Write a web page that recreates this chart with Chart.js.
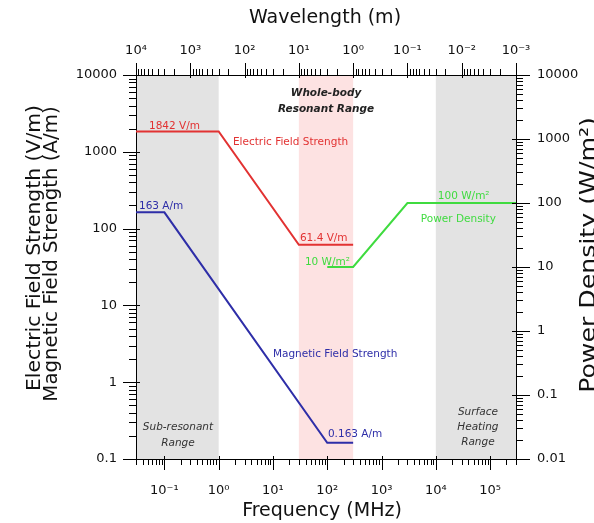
<!DOCTYPE html>
<html>
<head>
<meta charset="utf-8">
<script src="https://cdn.jsdelivr.net/npm/chart.js@4.4.1/dist/chart.umd.min.js"></script>
<style>
  html, body { margin: 0; padding: 0; background: #fff; }
</style>
</head>
<body>
<canvas id="chart" width="594" height="523"></canvas>
<script>
const FONT = '"DejaVu Sans", sans-serif';
const RED = '#e23232';
const BLUE = '#2e2ea8';
const GREEN = '#3fdb3f';

// axis ranges
const freqRange = [0.03, 300000];        // MHz
const wavelengthRange = [0.001, 10000];  // m
const fieldRange = [0.1, 10000];         // V/m, A/m
const powerRange = [0.01, 10000];        // W/m2

// reference level curves
const electricFreq = [0.03, 1, 30, 300];
const electricValues = [1842, 1842, 61.4, 61.4];
const magneticFreq = [0.03, 0.1, 100, 300];
const magneticValues = [163, 163, 0.163, 0.163];
const powerFreq = [100, 300, 3000, 300000];
const powerValues = [10, 10, 100, 100];

// shaded frequency ranges
const greyBands = [[0.03, 1], [10000, 300000]];
const resonantBand = [30, 300];

// text notes, anchored in data units
const notes = [
  { text: '1842 V/m', f: 0.052, v: 2150, axis: 'y', color: RED },
  { text: 'Electric Field Strength', f: 1.83, v: 1343, axis: 'y', color: RED },
  { text: '163 A/m', f: 0.034, v: 195, axis: 'y', color: BLUE },
  { text: '61.4 V/m', f: 31.4, v: 74, axis: 'y', color: RED },
  { text: '10 W/m²', f: 38.8, v: 11.8, axis: 'y2', color: GREEN },
  { text: '100 W/m²', f: 10900, v: 126, axis: 'y2', color: GREEN },
  { text: 'Power Density', f: 5300, v: 56, axis: 'y2', color: GREEN },
  { text: 'Magnetic Field Strength', f: 10, v: 2.33, axis: 'y', color: BLUE },
  { text: '0.163 A/m', f: 103, v: 0.21, axis: 'y', color: BLUE },
  { text: 'Whole-body', f: 95, v: 5840, axis: 'y', color: '#222', align: 'center', style: 'italic bold ' },
  { text: 'Resonant Range', f: 95, v: 3600, axis: 'y', color: '#222', align: 'center', style: 'italic bold ' },
  { text: 'Sub-resonant', f: 0.178, v: 0.261, axis: 'y', color: '#333', align: 'center', style: 'italic ' },
  { text: 'Range', f: 0.178, v: 0.161, axis: 'y', color: '#333', align: 'center', style: 'italic ' },
  { text: 'Surface', f: 59600, v: 0.41, axis: 'y', color: '#333', align: 'center', style: 'italic ' },
  { text: 'Heating', f: 59600, v: 0.261, axis: 'y', color: '#333', align: 'center', style: 'italic ' },
  { text: 'Range', f: 59600, v: 0.166, axis: 'y', color: '#333', align: 'center', style: 'italic ' }
];

const SUP = { '-': '⁻', '0': '⁰', '1': '¹', '2': '²', '3': '³', '4': '⁴', '5': '⁵' };

function decade(v) {
  const e = Math.log10(v);
  return Math.abs(e - Math.round(e)) < 1e-6 ? Math.round(e) : null;
}

function powerLabel(v) {
  const e = decade(v);
  if (e === null) return '';
  return '10' + String(e).split('').map(c => SUP[c]).join('');
}

function plainLabel(v) {
  const e = decade(v);
  if (e === null) return '';
  return e >= 0 ? String(Math.pow(10, e)) : Math.pow(10, e).toFixed(-e);
}

function logTicks(min, max) {
  const out = [];
  for (let e = Math.floor(Math.log10(min)); e <= Math.ceil(Math.log10(max)); e++) {
    for (let m = 1; m <= 9; m++) {
      const v = m * Math.pow(10, e);
      if (v >= min * 0.999 && v <= max * 1.001) out.push({ v, major: m === 1 });
    }
  }
  return out;
}

function points(xs, ys) {
  return xs.map((x, i) => ({ x, y: ys[i] }));
}

const bands = {
  id: 'bands',
  beforeDraw(chart) {
    const { ctx, chartArea: a, scales } = chart;
    const fillBand = (from, to, color) => {
      const x0 = scales.x.getPixelForValue(from);
      const x1 = scales.x.getPixelForValue(to);
      ctx.fillStyle = color;
      ctx.fillRect(x0, a.top, x1 - x0, a.bottom - a.top);
    };
    ctx.save();
    greyBands.forEach(b => fillBand(b[0], b[1], '#e3e3e3'));
    fillBand(resonantBand[0], resonantBand[1], '#fde2e2');
    ctx.restore();
  }
};

const notesPlugin = {
  id: 'notes',
  afterDatasetsDraw(chart) {
    const { ctx, scales } = chart;
    ctx.save();
    ctx.textBaseline = 'middle';
    notes.forEach(n => {
      ctx.font = (n.style || '') + '10.5px ' + FONT;
      ctx.fillStyle = n.color;
      ctx.textAlign = n.align || 'left';
      ctx.fillText(n.text, scales.x.getPixelForValue(n.f), scales[n.axis].getPixelForValue(n.v));
    });
    ctx.restore();
  }
};

function rotatedText(ctx, text, x, y, size, stretch) {
  ctx.save();
  ctx.translate(x, y);
  ctx.rotate(-Math.PI / 2);
  ctx.scale(stretch, 1);
  ctx.font = size + 'px ' + FONT;
  ctx.textAlign = 'center';
  ctx.textBaseline = 'alphabetic';
  ctx.fillText(text, 0, 0);
  ctx.restore();
}

const frame = {
  id: 'frame',
  afterDraw(chart) {
    const { ctx, chartArea: a, scales } = chart;
    ctx.save();
    ctx.strokeStyle = '#000';
    ctx.lineWidth = 1;
    ctx.beginPath();
    logTicks(freqRange[0], freqRange[1]).forEach(t => {
      const x = Math.round(scales.x.getPixelForValue(t.v)) + 0.5;
      ctx.moveTo(x, a.bottom - (t.major ? 3 : 0));
      ctx.lineTo(x, a.bottom + (t.major ? 11 : 6));
    });
    logTicks(wavelengthRange[0], wavelengthRange[1]).forEach(t => {
      const x = Math.round(scales.x2.getPixelForValue(t.v)) + 0.5;
      ctx.moveTo(x, a.top + (t.major ? 3 : 0));
      ctx.lineTo(x, a.top - (t.major ? 12 : 6));
    });
    logTicks(fieldRange[0], fieldRange[1]).forEach(t => {
      const y = Math.round(scales.y.getPixelForValue(t.v)) + 0.5;
      ctx.moveTo(a.left + (t.major ? 4 : 0), y);
      ctx.lineTo(a.left - (t.major ? 13 : 7), y);
    });
    logTicks(powerRange[0], powerRange[1]).forEach(t => {
      const y = Math.round(scales.y2.getPixelForValue(t.v)) + 0.5;
      ctx.moveTo(a.right - (t.major ? 4 : 0), y);
      ctx.lineTo(a.right + (t.major ? 14 : 7), y);
    });
    ctx.stroke();

    ctx.fillStyle = '#111';
    ctx.textAlign = 'center';
    ctx.textBaseline = 'middle';
    ctx.font = '19px ' + FONT;
    ctx.fillText('Wavelength (m)', 325, 18);
    ctx.fillText('Frequency (MHz)', 322, 511);
    rotatedText(ctx, 'Electric Field Strength (V/m)', 40, 248, 19, 1.07);
    rotatedText(ctx, 'Magnetic Field Strength (A/m)', 57, 254, 19, 1.04);
    rotatedText(ctx, 'Power Density (W/m²)', 595, 255, 21, 1.2);
    ctx.restore();
  }
};

function logAxis(position, range, label, padding, size, extra) {
  return Object.assign({
    type: 'logarithmic',
    position,
    min: range[0],
    max: range[1],
    grid: { display: false, drawTicks: false },
    border: { display: true, color: '#000', width: 1 },
    ticks: {
      autoSkip: false,
      maxRotation: 0,
      minRotation: 0,
      padding,
      color: '#111',
      font: { family: FONT, size: 13 },
      callback: label
    },
    afterFit(scale) {
      if (position === 'left' || position === 'right') scale.width = size;
      else scale.height = size;
    }
  }, extra || {});
}

new Chart(document.getElementById('chart'), {
  type: 'scatter',
  data: {
    datasets: [
      { label: 'Electric Field Strength', data: points(electricFreq, electricValues), borderColor: RED, yAxisID: 'y' },
      { label: 'Magnetic Field Strength', data: points(magneticFreq, magneticValues), borderColor: BLUE, yAxisID: 'y' },
      { label: 'Power Density', data: points(powerFreq, powerValues), borderColor: GREEN, yAxisID: 'y2' }
    ].map(ds => Object.assign(ds, { showLine: true, pointRadius: 0, borderWidth: 2, tension: 0, xAxisID: 'x' }))
  },
  options: {
    responsive: false,
    animation: false,
    layout: { padding: 0 },
    plugins: { legend: { display: false }, tooltip: { enabled: false } },
    scales: {
      x: logAxis('bottom', freqRange, powerLabel, 24, 64),
      x2: logAxis('top', wavelengthRange, powerLabel, 17, 75, { reverse: true }),
      y: logAxis('left', fieldRange, plainLabel, 19, 136),
      y2: logAxis('right', powerRange, plainLabel, 21, 78)
    }
  },
  plugins: [bands, notesPlugin, frame]
});
</script>
</body>
</html>
